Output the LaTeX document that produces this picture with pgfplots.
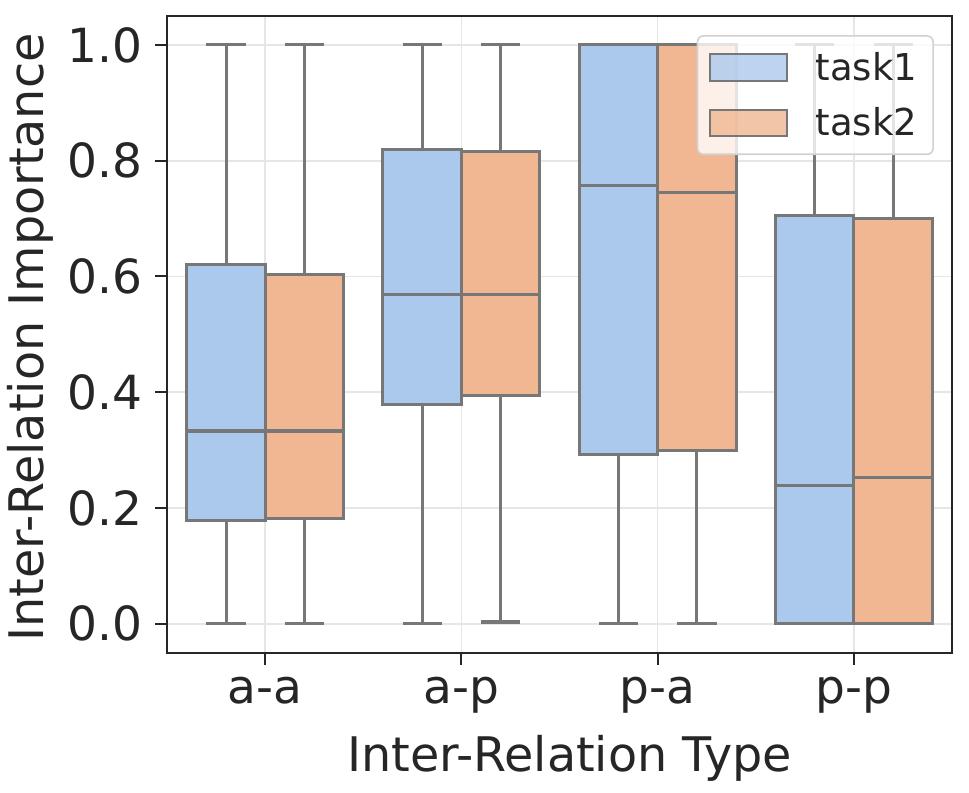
\documentclass[border=0pt]{standalone}
\usepackage{pgfplots}
\pgfplotsset{compat=1.18}
\usepgfplotslibrary{statistics}
\usepackage{fontspec}
\setmainfont{DejaVu Sans}

\definecolor{boxblue}{RGB}{171,201,236}
\definecolor{boxorange}{RGB}{240,183,146}
\definecolor{edgegray}{RGB}{119,119,119}
\definecolor{gridgray}{RGB}{230,230,230}
\definecolor{framec}{RGB}{38,38,38}

% one box: position, lower whisker, lower quartile, median, upper quartile, upper whisker, colour
\newcommand{\bx}[7]{%
  \addplot[forget plot, fill=#7, draw=edgegray, line width=1.5pt,
    boxplot/draw direction=y,
    boxplot prepared={draw position=#1, lower whisker=#2, lower quartile=#3,
      median=#4, upper quartile=#5, upper whisker=#6,
      box extend=0.4, whisker extend=0.2}]
    coordinates {};}

\begin{document}
\begin{tikzpicture}
\begin{axis}[
  scale only axis,
  width=392pt, height=318pt,
  xmin=-0.5, xmax=3.5,
  ymin=-0.05, ymax=1.05,
  xtick={0,1,2,3},
  xticklabels={a-a,a-p,p-a,p-p},
  ytick={0,0.2,0.4,0.6,0.8,1.0},
  yticklabel style={/pgf/number format/fixed,/pgf/number format/fixed zerofill,/pgf/number format/precision=1},
  /pgf/number format/assume math mode=true,
  xtick pos=bottom, ytick pos=left,
  tick label style={font=\fontsize{23.5}{28}\selectfont, text=framec, inner sep=6pt},
  label style={font=\fontsize{23.8}{28}\selectfont, text=framec},
  xlabel={Inter-Relation Type},
  ylabel={Inter-Relation Importance},
  xlabel style={at={(axis description cs:0.513,-0.186)}, anchor=base},
  ylabel style={at={(axis description cs:-0.157,0.495)}, anchor=base},
  tick align=outside,
  major tick length=6pt,
  tick style={framec, line width=1pt},
  axis line style={framec, line width=1.1pt},
  grid=major,
  grid style={gridgray, line width=0.8pt},
  legend style={at={(0.977,0.970)}, anchor=north east, rounded corners=3pt,
    fill=white, fill opacity=0.8, text opacity=1, draw=gridgray!80!gray, line width=0.8pt,
    font=\fontsize{18.5}{22}\selectfont, text=framec,
    row sep=8pt, inner xsep=6pt, inner ysep=6pt},
  legend cell align=left,
  legend image code/.code={\draw[#1, rounded corners=0pt] (0pt,-6.5pt) rectangle (38pt,6.5pt); \path (50pt,0pt);},
]
% task1
\bx{-0.2}{0}{0.179}{0.333}{0.620}{1}{boxblue}
\bx{0.8}{0}{0.378}{0.568}{0.820}{1}{boxblue}
\bx{1.8}{0}{0.293}{0.757}{1.000}{1}{boxblue}
\bx{2.8}{0}{0.000}{0.239}{0.705}{1}{boxblue}
% task2
\bx{0.2}{0}{0.182}{0.333}{0.603}{1}{boxorange}
\bx{1.2}{0.003}{0.395}{0.568}{0.816}{1}{boxorange}
\bx{2.2}{0}{0.300}{0.745}{1.000}{1}{boxorange}
\bx{3.2}{0}{0.000}{0.253}{0.700}{1}{boxorange}
\addlegendimage{fill=boxblue, draw=edgegray, line width=1pt}
\addlegendentry{task1}
\addlegendimage{fill=boxorange, draw=edgegray, line width=1pt}
\addlegendentry{task2}
\end{axis}
\pgfresetboundingbox
\path[use as bounding box] ([xshift=-83.5pt,yshift=-70pt]current axis.south west)
  rectangle ([xshift=8.5pt,yshift=8pt]current axis.north east);
\end{tikzpicture}
\end{document}
